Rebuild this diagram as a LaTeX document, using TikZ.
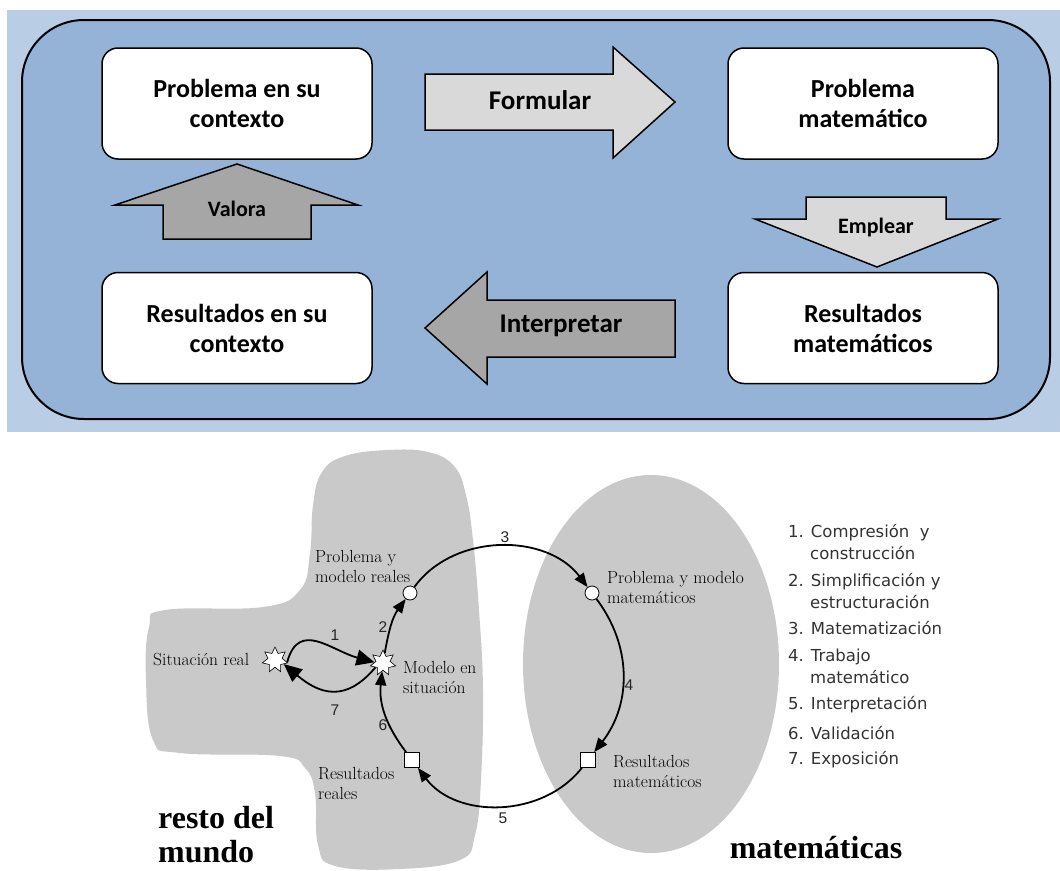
\documentclass[tikz,border=0pt]{standalone}
\usepackage{fontspec}
\newfontfamily\carlito{Carlito}
\newfontfamily\dejavu{DejaVu Sans}
\newfontfamily\tnr{Liberation Serif}
\newfontfamily\arial{Liberation Sans}
\usetikzlibrary{arrows.meta,shapes.geometric}
\definecolor{bgblue}{HTML}{B9CDE5}
\definecolor{panelblue}{HTML}{95B3D7}
\definecolor{lightarr}{HTML}{D9D9D9}
\definecolor{darkarr}{HTML}{A6A6A6}
\definecolor{blob}{HTML}{C9C9C9}
\definecolor{legendgray}{HTML}{333333}
\begin{document}
\begin{tikzpicture}[x=1pt,y=1pt,
  box/.style={draw=black, line width=1.5pt, fill=white, rounded corners=16pt,
    minimum width=270pt, minimum height=111pt, align=center,
    font=\carlito\bfseries\fontsize{26}{30}\selectfont},
  bigarrow/.style={draw=black, line width=1.5pt},
  arrlabel/.style={font=\carlito\bfseries\fontsize{27}{30}\selectfont},
  smalllabel/.style={font=\carlito\bfseries\fontsize{22}{26}\selectfont},
  lab/.style={font=\fontsize{17.5}{20}\selectfont, align=left, inner sep=0pt},
  num/.style={font=\arial\fontsize{15.5}{18}\selectfont, text=black!85, inner sep=0pt},
  big/.style={font=\tnr\bfseries\fontsize{32}{34}\selectfont, align=left, inner sep=0pt},
  leg/.style={font=\dejavu\fontsize{16.5}{20}\selectfont, text=legendgray, anchor=west, inner sep=0pt},
  starnode/.style={star, star points=7, star point ratio=1.8, minimum size=26pt, inner sep=0pt,
    fill=white, draw=black, line width=0.6pt},
  circnode/.style={circle, minimum size=14pt, inner sep=0pt, fill=white, draw=black, line width=0.8pt},
  sqnode/.style={rectangle, minimum size=15pt, inner sep=0pt, fill=white, draw=black, line width=0.8pt},
  conn/.style={line width=1.8pt, -{Triangle[length=14pt,width=11pt]}},
  connbig/.style={line width=1.8pt, -{Triangle[length=18pt,width=16pt]}}
]
\useasboundingbox (0,0) rectangle (1060,-870);
% ---------- top panel ----------
\fill[bgblue] (7,-10) rectangle (1060,-432);
\draw[line width=2pt, fill=panelblue, rounded corners=62pt] (22,-20) rectangle (1050,-419);

\node[box] (pc) at (237,-103.5) {Problema en su\\contexto};
\node[box] (pm) at (863,-103.5) {Problema\\matemático};
\node[box] (rc) at (237,-328) {Resultados en su\\contexto};
\node[box] (rm) at (863,-328) {Resultados\\matemáticos};

\draw[bigarrow, fill=lightarr] (425,-74) -- (613,-74) -- (613,-47) -- (675,-102) -- (613,-158) -- (613,-130) -- (425,-130) -- cycle;
\node[arrlabel] (formular) at (540,-100) {Formular};
\draw[bigarrow, fill=darkarr] (675,-300) -- (487,-300) -- (487,-272) -- (425,-328) -- (487,-384) -- (487,-357) -- (675,-357) -- cycle;
\node[arrlabel] (interp) at (561,-326) {Interpretar};
\draw[bigarrow, fill=darkarr] (163,-239) -- (163,-205) -- (115,-205) -- (237,-164) -- (358,-205) -- (311,-205) -- (311,-239) -- cycle;
\node[smalllabel] (valora) at (237,-209) {Valora};
\draw[bigarrow, fill=lightarr] (806,-197) -- (946,-197) -- (946,-219) -- (998,-219) -- (877,-267) -- (755,-219) -- (806,-219) -- cycle;
\node[smalllabel] (emplear) at (876,-228) {Emplear};

% ---------- bottom diagram ----------
\fill[blob] plot[smooth cycle, tension=0.7] coordinates {
  (345,-456) (388,-450) (428,-452) (454,-466) (466,-495) (473,-540) (479,-610) (483,-690)
  (481,-780) (475,-835) (460,-860) (400,-869) (335,-866) (318,-845) (315,-793) (305,-768)
  (280,-756) (180,-753) (153,-740) (146,-680) (149,-627) (165,-610) (263,-607) (300,-590)
  (310,-553) (313,-505) (322,-472)};
\fill[blob] (651,-664) ellipse[x radius=128, y radius=189];

\node[starnode] (sit) at (275,-660) {};
\node[starnode] (mod) at (383,-663) {};
\node[circnode] (cr) at (410,-593) {};
\node[circnode] (cm) at (592,-593) {};
\node[sqnode] (sr) at (412,-760) {};
\node[sqnode] (sm) at (588,-760) {};

\draw[conn] (mod) to[out=80,in=-126] (cr);
\draw[conn] (cr) to[out=54,in=127] (cm);
\draw[conn] (cm) to[out=-53,in=52] (sm);
\draw[conn] (sm) to[out=-128,in=-53] (sr);
\draw[conn] (sr) to[out=127,in=-96] (mod);
\draw[connbig] (sit.-10) to[out=75,in=165,looseness=1.3] (mod.175);
\draw[connbig] (mod.-150) to[out=-130,in=-40,looseness=1.3] (sit.-25);

\node[num] (n1) at (335,-635) {1};
\node[num] (n2) at (383,-627) {2};
\node[num] (n3) at (505,-537) {3};
\node[num] (n4) at (629,-685) {4};
\node[num] (n5) at (503,-818) {5};
\node[num] (n6) at (383,-725) {6};
\node[num] (n7) at (335,-710) {7};

\node[lab, anchor=west] (lsit) at (153,-660) {Situación real};
\node[lab, anchor=west] (lpr) at (315,-566) {Problema y\\modelo reales};
\node[lab, anchor=west] (lmod) at (403,-677) {Modelo en\\situación};
\node[lab, anchor=west] (lrr) at (318,-783) {Resultados\\reales};
\node[lab, anchor=west] (lpm) at (607,-587) {Problema y modelo\\matemáticos};
\node[lab, anchor=west] (lrm) at (613,-771) {Resultados\\matemáticos};

\node[big, anchor=west] (resto) at (158,-835) {resto del\\mundo};
\node[big] (mat) at (816,-848) {matemáticas};

% legend
\node[leg] (g1) at (788,-533) {1. Compresión\ \ y};
\node[leg] (g1b) at (810,-553) {construcción};
\node[leg] (g2) at (788,-582) {2. Simplificación y};
\node[leg] (g2b) at (810,-602) {estructuración};
\node[leg] (g3) at (788,-628) {3. Matematización};
\node[leg] (g4) at (788,-657) {4. Trabajo};
\node[leg] (g4b) at (810,-677) {matemático};
\node[leg] (g5) at (788,-705) {5. Interpretación};
\node[leg] (g6) at (788,-733) {6. Validación};
\node[leg] (g7) at (788,-760) {7. Exposición};
\end{tikzpicture}
\end{document}
